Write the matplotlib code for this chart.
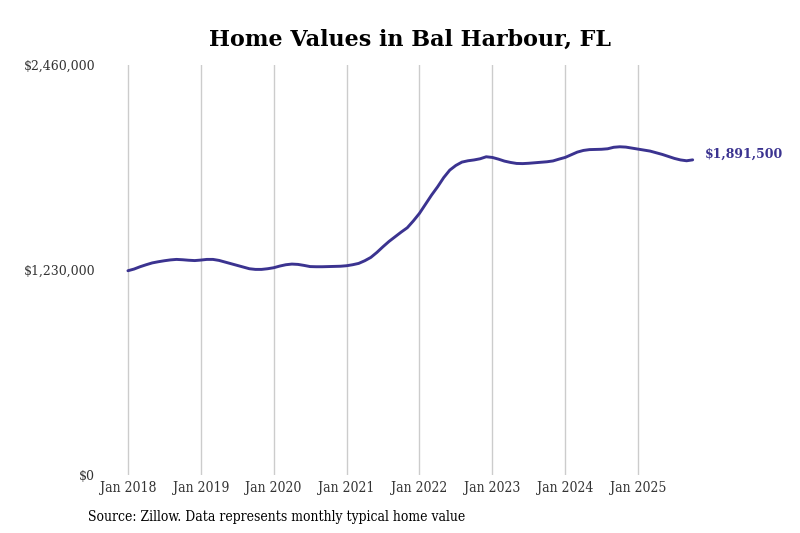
import matplotlib
matplotlib.use('Agg')
import matplotlib.pyplot as plt
import numpy as np

# Monthly typical home value, Jan 2018 .. Oct 2025
values = [
    1226000, 1236000, 1250000, 1262000, 1273000, 1280000, 1286000, 1291000, 1294000, 1292000, 1289000, 1287000,
    1290000, 1294000, 1294000, 1288000, 1278000, 1268000, 1258000, 1248000, 1238000, 1234000, 1234000, 1238000,
    1244000, 1254000, 1262000, 1266000, 1264000, 1258000, 1251000, 1250000, 1250000, 1251000, 1252000, 1253000,
    1256000, 1262000, 1270000, 1286000, 1306000, 1336000, 1370000, 1402000, 1430000, 1458000, 1484000, 1525000,
    1570000, 1625000, 1680000, 1730000, 1785000, 1830000, 1858000, 1878000, 1886000, 1891000, 1898000, 1910000,
    1906000, 1896000, 1884000, 1876000, 1870000, 1869000, 1871000, 1874000, 1877000, 1880000, 1885000, 1896000,
    1906000, 1922000, 1938000, 1948000, 1953000, 1954000, 1955000, 1958000, 1967000, 1970000, 1968000, 1962000,
    1956000, 1950000, 1944000, 1934000, 1924000, 1912000, 1900000, 1891000, 1886000, 1891500,
]
year_labels = ['Jan 2018', 'Jan 2019', 'Jan 2020', 'Jan 2021', 'Jan 2022', 'Jan 2023', 'Jan 2024', 'Jan 2025']
y_ticks = [0, 1230000, 2460000]
y_labels = ['$0', '$1,230,000', '$2,460,000']

LINE = '#3b3390'

fig = plt.figure(figsize=(8, 5.33), dpi=100)
ax = fig.add_axes([0.125, 0.1088, 0.775, 0.769])

months = np.arange(len(values))
ax.plot(months, values, color=LINE, lw=2.1, solid_capstyle='round')

ax.set_xlim(-4.6, 97.5)
ax.set_ylim(0, 2460000)
ax.set_xticks(np.arange(len(year_labels)) * 12)
ax.set_xticklabels(year_labels, family='DejaVu Serif', stretch='condensed', fontsize=10, color='#333333')
ax.set_yticks(y_ticks)
ax.set_yticklabels(y_labels, family='DejaVu Serif', fontsize=9, color='#333333')
ax.tick_params(length=0, pad=4)
ax.tick_params(axis='y', pad=3.5)
ax.grid(axis='x', color='#cccccc', lw=1)
for s in ax.spines.values():
    s.set_visible(False)

ax.annotate(f'${values[-1]:,.0f}', (months[-1], values[-1]), xytext=(9, 4), textcoords='offset points',
            ha='left', va='center', fontsize=9, fontweight='bold', family='DejaVu Serif', color=LINE)

fig.text(0.513, 0.925, 'Home Values in Bal Harbour, FL', ha='center', va='center',
         fontsize=16, fontweight='bold', family='DejaVu Serif', color='black')
fig.text(0.11, 0.03, 'Source: Zillow. Data represents monthly typical home value', ha='left', va='center',
         fontsize=10, family='DejaVu Serif', stretch='condensed', color='black')

fig.savefig('out.png', dpi=100)
